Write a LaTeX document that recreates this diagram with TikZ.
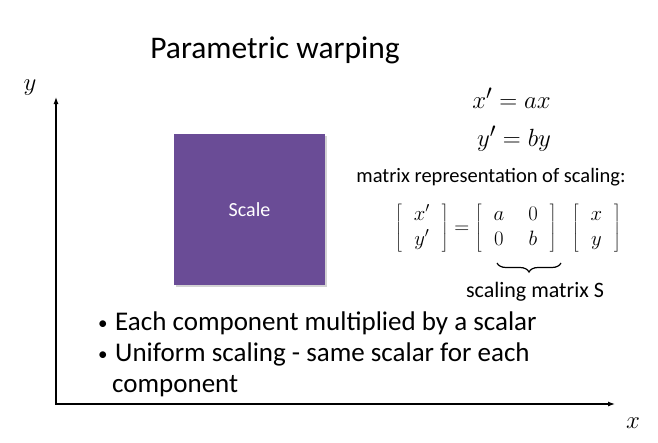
\documentclass[tikz,border=0pt]{standalone}
\usepackage{fontspec}
\setmainfont{Carlito}
\usetikzlibrary{arrows.meta,decorations.pathreplacing,shadows}

\definecolor{scalepurple}{RGB}{106,76,150}

\newcommand{\smallbullet}{\makebox[17pt][l]{\raisebox{1pt}{\fontsize{19}{19}\selectfont\textbullet}}}

\begin{document}
\begin{tikzpicture}[x=1pt,y=-1pt,
  axis/.style={line width=1.2pt,-{Latex[length=7pt,width=5pt]}},
  bulletline/.style={anchor=base west,inner sep=0pt,font=\fontsize{27}{31}\selectfont},
  smalltext/.style={inner sep=0pt,font=\fontsize{20.5}{24}\selectfont},
  eqtext/.style={inner sep=0pt,font=\fontsize{30}{34}\selectfont},
  square/.style={fill=scalepurple,minimum size=151pt,inner sep=0pt,text=white,
    font=\fontsize{20}{24}\selectfont,
    drop shadow={shadow xshift=2pt,shadow yshift=-2pt,opacity=0.35}}]

  \useasboundingbox (0,0) rectangle (658,442);

  % Title
  \node[font=\fontsize{31.5}{36}\selectfont,anchor=base,inner sep=0pt] (title) at (275,58) {Parametric warping};

  % Axes
  \coordinate (origin) at (56,404);
  \coordinate (ytip) at (56,97);
  \coordinate (xtip) at (615,404);
  \draw[axis] ([yshift=-0.6pt]origin) -- (ytip);
  \draw[axis] ([xshift=-0.6pt]origin) -- (xtip);
  \node[font=\fontsize{24}{28}\selectfont] (ylabel) at (30,88) {$y$};
  \node[font=\fontsize{24}{28}\selectfont] (xlabel) at (633,423) {$x$};

  % Purple square
  \node[square] (scale) at (249.5,209.5) {Scale};

  % Equations
  \node[eqtext] (xeq) at (511.5,98) {$x' = ax$};
  \node[eqtext] (yeq) at (514,139) {$y' = by$};

  % Matrix form
  \node[smalltext] (mtitle) at (491,177) {matrix representation of scaling:};
  \node[font=\fontsize{21}{25}\selectfont,inner sep=0pt] (meq) at (508,228)
    {\setlength{\arraycolsep}{12pt}%
     $\left[\begin{array}{c} x' \\ y' \end{array}\right]
      = \left[\begin{array}{cc} a & 0 \\ 0 & b \end{array}\right]
      \hspace{12pt} \left[\begin{array}{c} x \\ y \end{array}\right]$};

  % Brace under the scaling matrix
  \coordinate (braceL) at (497,263);
  \coordinate (braceR) at (561,263);
  \draw[decorate,decoration={brace,amplitude=9pt,mirror},line width=1.2pt] (braceL) -- (braceR);
  \node[smalltext,font=\fontsize{22}{26}\selectfont] (slabel) at (535,292) {scaling matrix S};

  % Bullet points
  \node[bulletline] (b1) at (98,330) {\smallbullet Each component multiplied by a scalar};
  \node[bulletline] (b2) at (98,361) {\smallbullet Uniform scaling - same scalar for each};
  \node[bulletline] (b3) at (112,392) {component};

\end{tikzpicture}
\end{document}
